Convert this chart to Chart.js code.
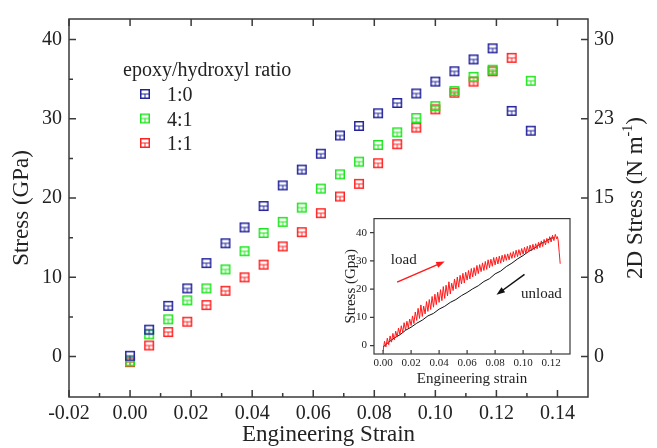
<!DOCTYPE html>
<html>
<head>
<meta charset="utf-8">
<script src="https://cdn.jsdelivr.net/npm/chart.js@4.4.1/dist/chart.umd.min.js"></script>
<style>
  body { margin: 0; background: #fff; }
  #wrap { position: relative; width: 657px; height: 448px; }
  #mainChart { position: absolute; left: 0; top: 0; }
  #insetChart { position: absolute; left: 330px; top: 205px; }
</style>
</head>
<body>
<div id="wrap">
  <canvas id="mainChart" width="657" height="448"></canvas>
  <canvas id="insetChart" width="250" height="185"></canvas>
</div>
<script>
// main plot data (engineering strain vs stress, GPa)
const strain = [0, 0.00625, 0.0125, 0.01875, 0.025, 0.03125, 0.0375, 0.04375, 0.05, 0.05625, 0.0625,
    0.06875, 0.075, 0.08125, 0.0875, 0.09375, 0.1, 0.10625, 0.1125, 0.11875, 0.125, 0.13125];
const stress10 = [0.1, 3.4, 6.4, 8.6, 11.8, 14.3, 16.3, 19.0, 21.6, 23.6, 25.6,
    27.9, 29.1, 30.7, 32.0, 33.2, 34.7, 36.0, 37.5, 38.9, 31.0, 28.5];
const stress41 = [-0.6, 2.8, 4.7, 7.1, 8.6, 11.0, 13.3, 15.6, 17.0, 18.8, 21.2,
    23.0, 24.6, 26.7, 28.3, 30.1, 31.6, 33.5, 35.3, 36.2, null, 34.8];
const stress11 = [-0.7, 1.4, 3.1, 4.4, 6.5, 8.3, 10.0, 11.6, 13.9, 15.7, 18.1,
    20.2, 21.8, 24.4, 26.8, 28.9, 31.2, 33.3, 34.7, 36.0, 37.7, null];
const ratioLabels = ['1:0', '4:1', '1:1'];
const ratioColors = ['#24249a', '#1ee61e', '#ff2424'];
const xTicks = [-0.02, 0, 0.02, 0.04, 0.06, 0.08, 0.1, 0.12, 0.14];
const yTicks = [0, 10, 20, 30, 40];
const y2Ticks = [0, 8, 15, 23, 30];

// inset data: load / unload cycle
const loadStrain = [
    0.000, 0.001, 0.002, 0.003, 0.004, 0.005, 0.006, 0.007, 0.008, 0.009,
    0.010, 0.011, 0.012, 0.013, 0.014, 0.015, 0.016, 0.017, 0.018, 0.019,
    0.020, 0.021, 0.022, 0.023, 0.024, 0.025, 0.026, 0.027, 0.028, 0.029,
    0.030, 0.031, 0.032, 0.033, 0.034, 0.035, 0.036, 0.037, 0.038, 0.039,
    0.040, 0.041, 0.042, 0.043, 0.044, 0.045, 0.046, 0.047, 0.048, 0.049,
    0.050, 0.051, 0.052, 0.053, 0.054, 0.055, 0.056, 0.057, 0.058, 0.059,
    0.060, 0.061, 0.062, 0.063, 0.064, 0.065, 0.066, 0.067, 0.068, 0.069,
    0.070, 0.071, 0.072, 0.073, 0.074, 0.075, 0.076, 0.077, 0.078, 0.079,
    0.080, 0.081, 0.082, 0.083, 0.084, 0.085, 0.086, 0.087, 0.088, 0.089,
    0.090, 0.091, 0.092, 0.093, 0.094, 0.095, 0.096, 0.097, 0.098, 0.099,
    0.100, 0.101, 0.102, 0.103, 0.104, 0.105, 0.106, 0.107, 0.108, 0.109,
    0.110, 0.111, 0.112, 0.113, 0.114, 0.115, 0.116, 0.117, 0.118, 0.119,
    0.120, 0.121, 0.122, 0.123, 0.124, 0.1245, 0.125, 0.1258, 0.1265];
const loadStress = [
    -2.0, 1.5, -0.5, 2.6, 0.3, 3.4, 1.2, 4.3, 2.0, 5.1,
    3.0, 6.2, 3.9, 7.0, 4.6, 8.1, 5.4, 8.6, 6.3, 9.4,
    7.1, 10.5, 7.8, 11.9, 8.9, 13.2, 9.6, 14.4, 10.3, 14.0,
    11.2, 15.6, 12.1, 16.3, 12.8, 17.4, 13.6, 18.2, 14.5, 18.9,
    15.3, 19.8, 15.9, 20.9, 16.7, 21.4, 17.6, 22.6, 18.3, 22.1,
    19.5, 23.6, 20.1, 24.3, 20.7, 24.9, 21.8, 25.6, 22.2, 26.0,
    23.2, 26.6, 23.6, 27.3, 24.3, 27.6, 24.8, 28.4, 25.5, 28.7,
    26.2, 29.3, 26.6, 29.8, 27.0, 30.4, 27.6, 30.6, 28.1, 31.2,
    28.6, 31.4, 28.9, 31.7, 29.2, 32.0, 29.7, 32.3, 30.2, 32.5,
    30.4, 32.9, 30.9, 33.3, 31.2, 33.8, 31.5, 34.0, 32.0, 34.4,
    32.4, 34.8, 32.7, 35.2, 33.1, 35.6, 33.5, 35.9, 34.0, 36.1,
    34.3, 36.6, 34.7, 37.1, 35.1, 37.6, 35.7, 38.0, 36.3, 38.6,
    36.7, 39.1, 37.2, 39.4, 37.8, 38.6, 37.5, 33.0, 29.0];
const unloadStrain = [0, 0.004, 0.008, 0.012, 0.016, 0.02, 0.024, 0.028, 0.032, 0.036, 0.04,
    0.044, 0.048, 0.052, 0.056, 0.06, 0.064, 0.068, 0.072, 0.076, 0.08,
    0.084, 0.088, 0.092, 0.096, 0.1, 0.104, 0.108, 0.112, 0.116, 0.12, 0.122];
const unloadStress = [-0.5, 1.2, 2.7, 3.8, 5.4, 6.5, 7.9, 9.0, 10.5, 11.4, 12.9,
    13.9, 15.3, 16.3, 17.7, 18.8, 20.1, 21.2, 22.7, 23.7, 25.4,
    26.4, 28.0, 29.2, 30.7, 31.9, 33.4, 34.5, 36.0, 36.9, 38.1, 38.2];

const serif = '"Liberation Serif", "Times New Roman", serif';
const axisColor = '#3a3a3a';

// hollow square marker with inner bars
function makeMarker(color) {
    const c = document.createElement('canvas');
    c.width = 12; c.height = 12;
    const g = c.getContext('2d');
    g.strokeStyle = color;
    g.lineWidth = 1.5;
    g.strokeRect(1.75, 1.75, 8.5, 8.5);
    g.lineWidth = 1;
    g.beginPath(); g.moveTo(2, 6); g.lineTo(10, 6); g.stroke();
    g.beginPath(); g.moveTo(6, 6); g.lineTo(6, 10); g.stroke();
    return c;
}
const markers = ratioColors.map(makeMarker);

function pts(xs, ys) {
    const out = [];
    xs.forEach((x, i) => { if (ys[i] !== null) out.push({ x: x, y: ys[i] }); });
    return out;
}

const stressMin = -5.1, stressMax = 42.6;

const mainDecor = {
    id: 'mainDecor',
    afterDraw(chart) {
        const { ctx, chartArea: a, scales } = chart;
        ctx.save();
        ctx.strokeStyle = axisColor;
        ctx.lineWidth = 1.5;
        ctx.strokeRect(a.left, a.top, a.right - a.left, a.bottom - a.top);
        ctx.beginPath();
        xTicks.forEach(v => {
            const px = scales.x.getPixelForValue(v);
            ctx.moveTo(px, a.bottom); ctx.lineTo(px, a.bottom - 7);
            ctx.moveTo(px, a.top); ctx.lineTo(px, a.top + 7);
            const m = scales.x.getPixelForValue(v + 0.01);
            if (m < a.right - 2) { ctx.moveTo(m, a.bottom); ctx.lineTo(m, a.bottom - 4); }
        });
        yTicks.forEach(v => {
            const py = scales.y.getPixelForValue(v);
            ctx.moveTo(a.left, py); ctx.lineTo(a.left + 7, py);
            ctx.moveTo(a.right, py); ctx.lineTo(a.right - 7, py);
            const m = scales.y.getPixelForValue(v + 5);
            if (m > a.top + 2) { ctx.moveTo(a.left, m); ctx.lineTo(a.left + 4, m); }
        });
        ctx.stroke();

        // right axis title with superscript
        ctx.fillStyle = '#222';
        ctx.translate(636, 198);
        ctx.rotate(-Math.PI / 2);
        ctx.textBaseline = 'middle';
        const f = '23px ' + serif, fs = '14px ' + serif;
        ctx.font = f;
        const p1 = '2D Stress (N m', p3 = ')';
        const w1 = ctx.measureText(p1).width, w3 = ctx.measureText(p3).width;
        ctx.font = fs;
        const w2 = ctx.measureText('-1').width;
        let x0 = -(w1 + w2 + w3) / 2;
        ctx.font = f;
        ctx.fillText(p1, x0, 0);
        ctx.font = fs;
        ctx.fillText('-1', x0 + w1, -8);
        ctx.font = f;
        ctx.fillText(p3, x0 + w1 + w2, 0);
        ctx.restore();

        // legend
        ctx.save();
        ctx.fillStyle = '#222';
        ctx.font = '20px ' + serif;
        ctx.textBaseline = 'alphabetic';
        ctx.fillText('epoxy/hydroxyl ratio', 123, 76);
        ratioLabels.forEach((lab, i) => {
            const y = 94 + i * 24.5;
            ctx.drawImage(markers[i], 139, y - 6);
            ctx.fillText(lab, 167, y + 7);
        });
        ctx.restore();
    }
};

new Chart(document.getElementById('mainChart').getContext('2d'), {
    type: 'scatter',
    data: {
        datasets: [stress10, stress41, stress11].map((s, i) => ({
            label: ratioLabels[i],
            data: pts(strain, s),
            pointStyle: markers[i],
            pointRadius: 6,
            yAxisID: 'y'
        }))
    },
    options: {
        responsive: false,
        animation: false,
        layout: { padding: { top: 11, left: 0, right: 0, bottom: 0 } },
        plugins: { legend: { display: false }, tooltip: { enabled: false } },
        scales: {
            x: {
                type: 'linear', min: -0.02, max: 0.15,
                afterFit: s => { s.height = 51; },
                grid: { display: false, drawTicks: false },
                border: { display: false },
                afterBuildTicks: s => { s.ticks = xTicks.map(v => ({ value: v })); },
                ticks: {
                    padding: 5, color: '#222', font: { family: serif, size: 20 },
                    maxRotation: 0, autoSkip: false,
                    callback: v => v.toFixed(2)
                },
                title: {
                    display: true, text: 'Engineering Strain', color: '#222',
                    font: { family: serif, size: 23, lineHeight: 1.1 }, padding: { top: 0, bottom: 0 }
                }
            },
            y: {
                type: 'linear', position: 'left', min: stressMin, max: stressMax,
                afterFit: s => { s.width = 69; },
                grid: { display: false, drawTicks: false },
                border: { display: false },
                afterBuildTicks: s => { s.ticks = yTicks.map(v => ({ value: v })); },
                ticks: {
                    padding: 7, color: '#222', font: { family: serif, size: 20 },
                    callback: v => String(v)
                },
                title: {
                    display: true, text: 'Stress (GPa)', color: '#222',
                    font: { family: serif, size: 23 }, padding: { top: 8, bottom: 0 }
                }
            },
            y2: {
                type: 'linear', position: 'right',
                min: stressMin * 0.75, max: stressMax * 0.75,
                afterFit: s => { s.width = 69; },
                grid: { display: false, drawTicks: false },
                border: { display: false },
                afterBuildTicks: s => { s.ticks = [0, 7.5, 15, 22.5, 30].map(v => ({ value: v })); },
                ticks: {
                    padding: 6, color: '#222', font: { family: serif, size: 20 },
                    callback: (v, i) => String(y2Ticks[i])
                }
            }
        }
    },
    plugins: [mainDecor]
});

// inset: load / unload curves
const insetDecor = {
    id: 'insetDecor',
    beforeDraw(chart) {
        const { ctx, chartArea: a } = chart;
        ctx.save();
        ctx.fillStyle = '#fff';
        ctx.fillRect(a.left, a.top, a.right - a.left, a.bottom - a.top);
        ctx.restore();
    },
    afterDraw(chart) {
        const { ctx, chartArea: a, scales } = chart;
        const X = v => scales.x.getPixelForValue(v), Y = v => scales.y.getPixelForValue(v);
        ctx.save();
        ctx.strokeStyle = axisColor;
        ctx.lineWidth = 1.2;
        ctx.strokeRect(a.left, a.top, a.right - a.left, a.bottom - a.top);
        ctx.beginPath();
        [0, 0.02, 0.04, 0.06, 0.08, 0.1, 0.12].forEach(v => {
            ctx.moveTo(X(v), a.bottom); ctx.lineTo(X(v), a.bottom - 4);
        });
        [0, 10, 20, 30, 40].forEach(v => {
            ctx.moveTo(a.left, Y(v)); ctx.lineTo(a.left - 4, Y(v));
        });
        ctx.stroke();

        function arrow(x1, y1, x2, y2, color) {
            const p1 = [X(x1), Y(y1)], p2 = [X(x2), Y(y2)];
            const ang = Math.atan2(p2[1] - p1[1], p2[0] - p1[0]);
            ctx.strokeStyle = color; ctx.fillStyle = color; ctx.lineWidth = 1.5;
            ctx.beginPath(); ctx.moveTo(p1[0], p1[1]);
            ctx.lineTo(p2[0] - 6 * Math.cos(ang), p2[1] - 6 * Math.sin(ang)); ctx.stroke();
            ctx.beginPath();
            ctx.moveTo(p2[0], p2[1]);
            ctx.lineTo(p2[0] - 9 * Math.cos(ang - 0.35), p2[1] - 9 * Math.sin(ang - 0.35));
            ctx.lineTo(p2[0] - 9 * Math.cos(ang + 0.35), p2[1] - 9 * Math.sin(ang + 0.35));
            ctx.closePath(); ctx.fill();
        }
        arrow(0.010, 22.5, 0.044, 29.8, '#ff1a1a');
        arrow(0.101, 25.2, 0.081, 18.0, '#111');

        ctx.fillStyle = '#222';
        ctx.font = '15px ' + serif;
        ctx.textBaseline = 'alphabetic';
        ctx.fillText('load', X(0.0055), Y(28.8));
        ctx.fillText('unload', X(0.0985), Y(16.8));
        ctx.restore();
    }
};

new Chart(document.getElementById('insetChart').getContext('2d'), {
    type: 'scatter',
    data: {
        datasets: [
            {
                label: 'load', data: pts(loadStrain, loadStress), showLine: true,
                borderColor: '#ff1a1a', borderWidth: 1, pointRadius: 0, tension: 0
            },
            {
                label: 'unload', data: pts(unloadStrain, unloadStress), showLine: true,
                borderColor: '#111', borderWidth: 1, pointRadius: 0, tension: 0
            }
        ]
    },
    options: {
        responsive: false,
        animation: false,
        layout: { padding: { top: 5, right: 10, left: 0, bottom: 0 } },
        plugins: { legend: { display: false }, tooltip: { enabled: false } },
        scales: {
            x: {
                type: 'linear', min: -0.0065, max: 0.1335,
                afterFit: s => { s.height = 36; },
                grid: { display: false, drawTicks: false },
                border: { display: false },
                afterBuildTicks: s => { s.ticks = [0, 0.02, 0.04, 0.06, 0.08, 0.1, 0.12].map(v => ({ value: v })); },
                ticks: {
                    padding: 3, color: '#222', font: { family: serif, size: 11 },
                    maxRotation: 0, autoSkip: false, callback: v => v.toFixed(2)
                },
                title: {
                    display: true, text: 'Engineering strain', color: '#222',
                    font: { family: serif, size: 15 }, padding: { top: 0, bottom: 2 }
                }
            },
            y: {
                type: 'linear', min: -3, max: 45,
                afterFit: s => { s.width = 44; },
                grid: { display: false, drawTicks: false },
                border: { display: false },
                afterBuildTicks: s => { s.ticks = [0, 10, 20, 30, 40].map(v => ({ value: v })); },
                ticks: {
                    padding: 7, color: '#222', font: { family: serif, size: 11 },
                    callback: v => String(v)
                },
                title: {
                    display: true, text: 'Stress (Gpa)', color: '#222',
                    font: { family: serif, size: 15 }, padding: { top: 12, bottom: 0 }
                }
            }
        }
    },
    plugins: [insetDecor]
});
</script>
</body>
</html>
